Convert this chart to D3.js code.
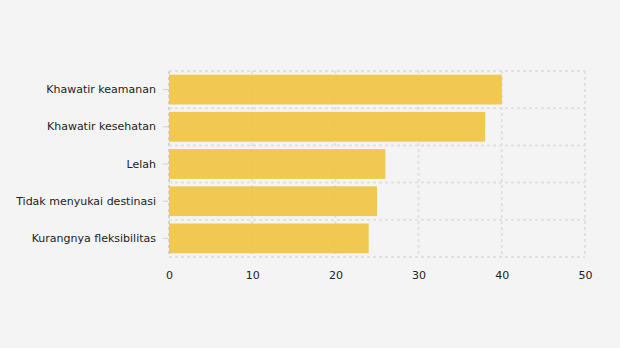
<!DOCTYPE html>
<html>
<head>
<meta charset="utf-8">
<script src="https://cdn.jsdelivr.net/npm/d3@7/dist/d3.min.js"></script>
<style>
  html, body { margin: 0; padding: 0; background: #f4f4f4; }
  svg { display: block; }
  text { font-family: "DejaVu Sans", Verdana, sans-serif; font-size: 11px; fill: #222; }
</style>
</head>
<body>
<svg id="chart" width="620" height="348"></svg>
<script>
// Reasons for cancelling trips (percent of respondents)
const categories = [
  "Khawatir keamanan",
  "Khawatir kesehatan",
  "Lelah",
  "Tidak menyukai destinasi",
  "Kurangnya fleksibilitas"
];
const values = [40, 38, 26, 25, 24];
const xTicks = [0, 10, 20, 30, 40, 50];

const margin = { top: 71, right: 35, bottom: 91, left: 169 };
const width = 620, height = 348;
const svg = d3.select("#chart");

const x = d3.scaleLinear().domain([0, 50]).range([margin.left, width - margin.right]);
const y = d3.scaleBand().domain(categories)
  .range([margin.top, height - margin.bottom])
  .paddingInner(0.2).paddingOuter(0.1);

// Band boundaries used for the horizontal grid
const step = y.step();
const bandEdges = d3.range(categories.length + 1).map(i => margin.top + i * step);

const grid = svg.append("g").attr("stroke", "#e0e0e0").attr("stroke-width", 2).attr("stroke-dasharray", "3,3");
grid.selectAll("line.v").data(xTicks).join("line")
  .attr("x1", d => x(d)).attr("x2", d => x(d))
  .attr("y1", margin.top).attr("y2", height - margin.bottom)
  .attr("stroke", d => d === 0 ? "#d2d2d2" : null);
grid.selectAll("line.h").data(bandEdges).join("line")
  .attr("x1", margin.left).attr("x2", width - margin.right)
  .attr("y1", d => d).attr("y2", d => d);

// Bars (slightly translucent so the grid shows faintly through)
svg.append("g").selectAll("rect").data(values).join("rect")
  .attr("x", x(0))
  .attr("y", (d, i) => y(categories[i]))
  .attr("width", d => x(d) - x(0))
  .attr("height", y.bandwidth())
  .attr("fill", "#f0c342")
  .attr("fill-opacity", 0.92);

// Y axis (category labels with short ticks)
const yAxis = svg.append("g").attr("transform", `translate(${margin.left - 1},0)`)
  .call(d3.axisLeft(y).tickSize(5).tickPadding(7));
yAxis.select(".domain").remove();
yAxis.selectAll(".tick line").attr("stroke", "#d0d0d0");
yAxis.selectAll("text").attr("fill", "#222").style("font-size", "11px").style("font-family", "'DejaVu Sans', Verdana, sans-serif");

// X axis (labels only)
const xAxis = svg.append("g").attr("transform", `translate(0,${height - margin.bottom})`)
  .call(d3.axisBottom(x).tickValues(xTicks).tickSize(0).tickPadding(14).tickFormat(d3.format("d")));
xAxis.select(".domain").remove();
xAxis.selectAll("text").attr("fill", "#222").style("font-size", "11px").style("font-family", "'DejaVu Sans', Verdana, sans-serif");
</script>
</body>
</html>
